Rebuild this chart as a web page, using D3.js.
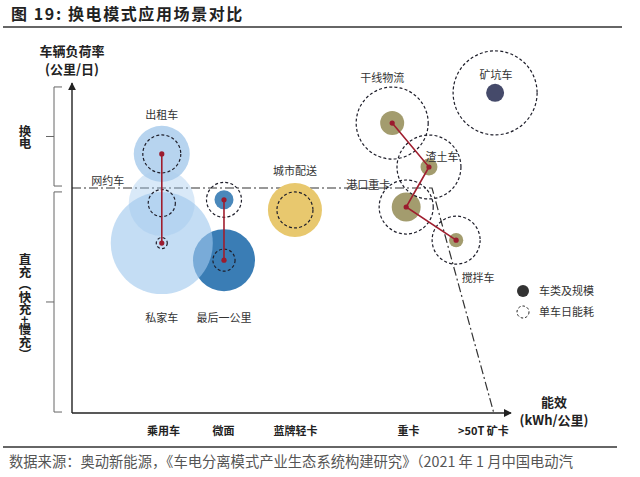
<!DOCTYPE html>
<html>
<head>
<meta charset="utf-8">
<script src="https://cdn.jsdelivr.net/npm/d3@7"></script>
<style>
  body { margin: 0; background: #fff; }
  svg { display: block; font-family: "Noto Sans CJK SC", "Noto Sans", sans-serif; }
</style>
</head>
<body>
<div id="grafico"></div>
<script>
// datos (unidades relativas 0-100)
const nombres = ['出租车', '网约车', '私家车', '最后一公里', '最后一公里', '城市配送', '干线物流', '渣土车', '港口重卡', '搅拌车', '矿坑车'];
const energia = [20.5, 20.5, 20.5, 34.7, 34.7, 50.9, 73.1, 81.5, 76.3, 87.7, 96.6];
const carga = [79, 64, 51.8, 65, 46.6, 61.9, 88.4, 75, 62.8, 52.7, 97.6];
const escala = [21.8, 30.3, 72.3, 2.5, 26.7, 20.3, 4, 2, 5.8, 1.4, 2.25];
const consumoDiario = [10, 5.1, 0.84, 8.5, 3.4, 9, 36, 28.4, 20.3, 16, 49];
const cadenas = [[0, 1, 2], [3, 4], [6, 7, 8, 9]];

const ticksX = [20.8, 34.5, 50.9, 76.7, 93.8];
const etiquetasX = ['乘用车', '微面', '蓝牌轻卡', '重卡', '>50T 矿卡'];
const limite = [[0, 68.6], [82.2, 68.6], [96.3, 0]];
const zonas = [{ nombre: '换电', desde: 69.2, hasta: 99.4 }, { nombre: '直充︵快充+慢充︶', desde: 0.3, hasta: 67.4 }];

const width = 640, height = 477;
const svg = d3.select('#grafico').append('svg')
  .attr('width', width).attr('height', height);

// titulo y reglas
svg.append('text').attr('x', 11).attr('y', 20)
  .style('font-size', '16px').style('font-weight', 'bold').style('letter-spacing', '1.6px')
  .attr('fill', '#222').text('图 19:  换电模式应用场景对比');
svg.append('line').attr('x1', 3).attr('x2', 622).attr('y1', 27).attr('y2', 27)
  .attr('stroke', '#333').attr('stroke-width', 1.5);
svg.append('line').attr('x1', 3).attr('x2', 617).attr('y1', 447).attr('y2', 447)
  .attr('stroke', '#333').attr('stroke-width', 1.5);
svg.append('text').attr('x', 9).attr('y', 467)
  .style('font-size', '14.3px').attr('fill', '#555')
  .text('数据来源：奥动新能源，《车电分离模式产业生态系统构建研究》（2021 年 1 月中国电动汽');

const x = d3.scaleLinear().domain([0, 100]).range([72, 510]);
const y = d3.scaleLinear().domain([0, 100]).range([413, 85]);
const r = d3.scaleSqrt().domain([0, 100]).range([0, 60]);

const defs = svg.append('defs');
defs.append('marker').attr('id', 'flecha')
  .attr('viewBox', '0 0 10 10').attr('refX', 9).attr('refY', 5)
  .attr('markerWidth', 8).attr('markerHeight', 8).attr('orient', 'auto-start-reverse')
  .attr('markerUnits', 'userSpaceOnUse')
  .append('path').attr('d', 'M0,0 L10,5 L0,10 z').attr('fill', '#222');

// zonas (corchetes a la izquierda) con texto vertical
zonas.forEach(z => {
  const y1 = y(z.hasta), y2 = y(z.desde), ym = (y1 + y2) / 2;
  svg.append('path')
    .attr('d', `M62,${y1} H54 V${y2} H62 M54,${ym} H46`)
    .attr('fill', 'none').attr('stroke', '#666').attr('stroke-width', 1);
  svg.append('text').attr('x', 25).attr('y', ym + (z.nombre.length > 2 ? 5 : 1))
    .style('writing-mode', 'vertical-rl').attr('text-anchor', 'middle')
    .style('font-size', '12.5px').style('font-weight', 'bold').attr('fill', '#222')
    .text(z.nombre);
});

// linea limite punto-raya
svg.append('path')
  .attr('d', d3.line().x(d => x(d[0])).y(d => y(d[1]))(limite))
  .attr('fill', 'none').attr('stroke', '#333').attr('stroke-width', 1.2)
  .attr('stroke-dasharray', '9,3,2,3');

// burbujas de escala
const colores = ['#aacdec', '#a0c8ee', '#a0c8ee', '#4a88bb', '#3a7db5', '#e8c86e',
  '#a39c6e', '#a39c6e', '#a39c6e', '#a39c6e', '#454a6a'];
const opacidades = [0.85, 0.4, 0.62, 1, 1, 1, 1, 1, 1, 1, 1];
const orden = [4, 2, 1, 0, 3, 5, 6, 7, 8, 9, 10];
svg.append('g').selectAll('circle')
  .data(orden).join('circle')
  .attr('cx', i => x(energia[i])).attr('cy', i => y(carga[i]))
  .attr('r', i => r(escala[i]))
  .attr('fill', i => colores[i]).attr('fill-opacity', i => opacidades[i]);

// circulos de consumo diario
svg.append('g').selectAll('circle')
  .data(d3.range(nombres.length)).join('circle')
  .attr('cx', i => x(energia[i])).attr('cy', i => y(carga[i]))
  .attr('r', i => r(consumoDiario[i]))
  .attr('fill', 'none').attr('stroke', '#1e1e2a').attr('stroke-width', 1.2)
  .attr('stroke-dasharray', '3,2.2');

// cadenas rojas
cadenas.forEach(c => {
  svg.append('path')
    .attr('d', d3.line().x(i => x(energia[i])).y(i => y(carga[i]))(c))
    .attr('fill', 'none').attr('stroke', '#a01e2e').attr('stroke-width', 1.6);
});
svg.append('g').selectAll('circle')
  .data(cadenas.flat().filter(i => i !== 1)).join('circle')
  .attr('cx', i => x(energia[i])).attr('cy', i => y(carga[i]))
  .attr('r', 2.6).attr('fill', '#9b1b2e');

// etiquetas de vehiculos
const desplaz = [[0, -40], [-54, -23], [0, 74], [0, 117], [0, 57], [0, -40],
  [-10, -46], [13, -11], [-38, -23], [22, 37], [1, -19]];
svg.append('g').selectAll('text')
  .data(d3.range(nombres.length).filter(i => i !== 3)).join('text')
  .attr('x', i => x(energia[i]) + desplaz[i][0])
  .attr('y', i => y(carga[i]) + desplaz[i][1])
  .attr('text-anchor', 'middle').attr('dominant-baseline', 'central')
  .style('font-size', '11px').attr('fill', '#333')
  .text(i => nombres[i]);

// ejes
svg.append('line').attr('x1', x(0)).attr('y1', y(0)).attr('x2', x(0)).attr('y2', 83)
  .attr('stroke', '#222').attr('stroke-width', 1.4).attr('marker-end', 'url(#flecha)');
svg.append('line').attr('x1', x(0)).attr('y1', y(0)).attr('x2', 511).attr('y2', y(0))
  .attr('stroke', '#222').attr('stroke-width', 1.4).attr('marker-end', 'url(#flecha)');

const ejeX = svg.append('g').attr('transform', `translate(0,${y(0)})`)
  .call(d3.axisBottom(x).tickValues(ticksX).tickSize(0).tickPadding(14)
    .tickFormat((d, i) => etiquetasX[i]));
ejeX.select('.domain').remove();
ejeX.selectAll('text')
  .style('font-size', '11px').style('font-weight', 'bold')
  .style('font-family', '"Noto Sans CJK SC", sans-serif').attr('fill', '#222');

svg.append('text').attr('x', x(0)).attr('y', 56).attr('text-anchor', 'middle')
  .style('font-size', '13px').style('font-weight', 'bold').attr('fill', '#222').text('车辆负荷率');
svg.append('text').attr('x', x(0)).attr('y', 74).attr('text-anchor', 'middle')
  .style('font-size', '13px').style('font-weight', 'bold').attr('fill', '#222').text('(公里/日)');
svg.append('text').attr('x', 554).attr('y', 407).attr('text-anchor', 'middle')
  .style('font-size', '13px').style('font-weight', 'bold').attr('fill', '#222').text('能效');
svg.append('text').attr('x', 554).attr('y', 425).attr('text-anchor', 'middle')
  .style('font-size', '13px').style('font-weight', 'bold').attr('fill', '#222').text('(kWh/公里)');

// leyenda
const leyenda = [{ t: '车类及规模', relleno: '#333', trazo: 'none' }, { t: '单车日能耗', relleno: 'none', trazo: '#222' }];
const gl = svg.append('g').selectAll('g').data(leyenda).join('g')
  .attr('transform', (d, i) => `translate(523,${291 + i * 21})`);
gl.append('circle').attr('r', 6).attr('fill', d => d.relleno)
  .attr('stroke', d => d.trazo).attr('stroke-dasharray', '2.5,2');
gl.append('text').attr('x', 16).attr('dy', '0.35em')
  .style('font-size', '11px').attr('fill', '#333').text(d => d.t);
</script>
</body>
</html>
